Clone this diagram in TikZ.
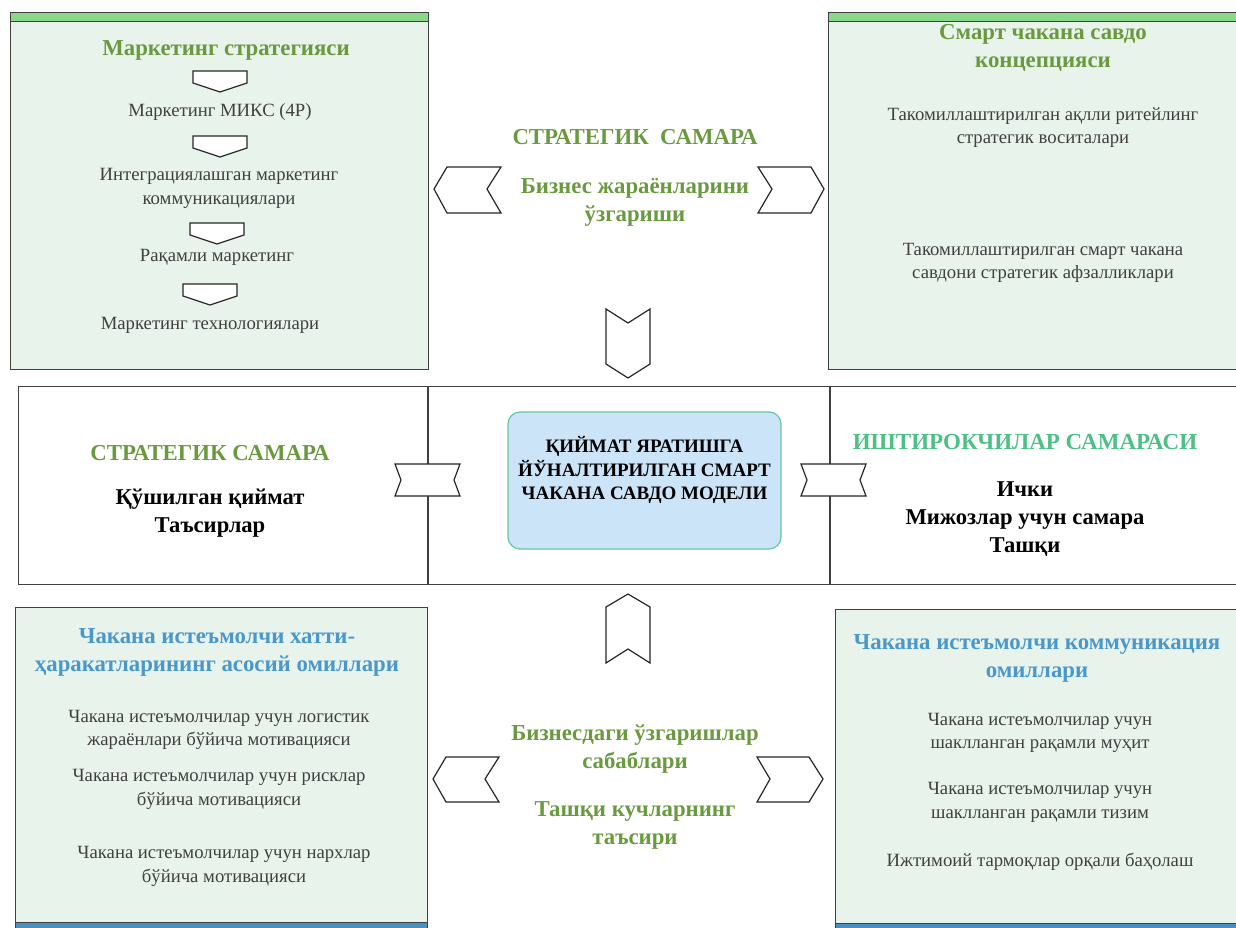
\documentclass[tikz,border=0pt]{standalone}
\usepackage{fontspec}
\setmainfont{Liberation Serif}
\usepackage{xcolor}
\definecolor{panelfill}{HTML}{E8F3EC}
\definecolor{stripgreen}{HTML}{8CD88A}
\definecolor{stripblue}{HTML}{4A8FC2}
\definecolor{titlegreen}{HTML}{6A9A3F}
\definecolor{titleblue}{HTML}{4A98CB}
\definecolor{mintgreen}{HTML}{4DC086}
\definecolor{bodygray}{HTML}{404040}
\definecolor{corefill}{HTML}{CCE4F7}
\definecolor{coreline}{HTML}{66C79A}
\tikzstyle{panel} = [draw=black!75, fill=panelfill, line width=1.2pt, rectangle, inner sep=0pt]
\tikzstyle{strip} = [draw=black!75, line width=1.2pt, rectangle, inner sep=0pt, minimum height=9]
\tikzstyle{band} = [draw=black!75, fill=white, line width=1.2pt, rectangle, inner sep=0pt]
\tikzstyle{corebox} = [draw=coreline, fill=corefill, line width=1.2pt, rectangle, rounded corners=12pt]
\tikzstyle{chev} = [draw=black!85, fill=white, line width=1.2pt]
\tikzstyle{greentitle} = [text=titlegreen, font=\bfseries\fontsize{22.8}{28}\selectfont, align=center]
\tikzstyle{bluetitle} = [text=titleblue, font=\bfseries\fontsize{22.8}{28}\selectfont, align=center, yshift=-1.5pt]
\tikzstyle{minttitle} = [text=mintgreen, font=\bfseries\fontsize{23}{28}\selectfont, align=center]
\tikzstyle{blacktitle} = [text=black, font=\bfseries\fontsize{22.6}{28}\selectfont, align=center, yshift=-1pt]
\tikzstyle{coretext} = [text=black, font=\bfseries\fontsize{19}{23.5}\selectfont, align=center]
\tikzstyle{graytext} = [text=bodygray, font=\fontsize{18.7}{23.5}\selectfont, align=center, yshift=-2pt]

\begin{document}
\begin{tikzpicture}[x=1pt,y=-1pt]
\useasboundingbox (0,0) rectangle (1236,927);
% top panels
\node[panel, anchor=north west, minimum width=418, minimum height=357] (mkt) at (10,12) {};
\node[strip, fill=stripgreen, anchor=north west, minimum width=418] at (mkt.north west) {};
\node[panel, anchor=north west, minimum width=420, minimum height=357] (smart) at (828,12) {};
\node[strip, fill=stripgreen, anchor=north west, minimum width=420] at (smart.north west) {};
% middle band
\node[band, anchor=north west, minimum width=1230, minimum height=198] (band) at (18,386) {};
\draw[black!75, line width=1.2pt] ([xshift=410pt]band.north west) -- ([xshift=410pt]band.south west);
\draw[black!75, line width=1.2pt] ([xshift=812pt]band.north west) -- ([xshift=812pt]band.south west);
\node[corebox, minimum width=273, minimum height=137] (core) at (644.5,480.5) {};
\node[coretext] (coretext) at (644.5,470) {ҚИЙМАТ ЯРАТИШГА\\ЙЎНАЛТИРИЛГАН СМАРТ\\ЧАКАНА САВДО МОДЕЛИ};
% bottom panels
\node[panel, anchor=north west, minimum width=412, minimum height=330] (behav) at (15,607) {};
\node[strip, fill=stripblue, anchor=south west, minimum width=412, minimum height=15] at (behav.south west) {};
\node[panel, anchor=north west, minimum width=410, minimum height=328] (comm) at (835,609) {};
\node[strip, fill=stripblue, anchor=south west, minimum width=410, minimum height=14] at (comm.south west) {};

% marketing strategy
\node[greentitle, yshift=-2pt] (mkttitle) at (226,48) {Маркетинг стратегияси};
\foreach \x/\y in {220/71, 220/136, 217/223, 210/284}
  \draw[chev] (\x-27,\y) -- ++(54,0) -- ++(0,12) -- ++(-27,9) -- ++(-27,-9) -- cycle;
\node[graytext] (mix) at (220,110) {Маркетинг МИКС (4P)};
\node[graytext] (imc) at (219,186.5) {Интеграциялашган маркетинг\\коммуникациялари};
\node[graytext] (digital) at (217,255) {Рақамли маркетинг};
\node[graytext] (tech) at (210,323) {Маркетинг технологиялари};

% smart retail concept
\node[greentitle, yshift=-1.5pt] (smarttitle) at (1043,46.5) {Смарт чакана савдо\\концепцияси};
\node[graytext] (tools) at (1043,125.5) {Такомиллаштирилган ақлли ритейлинг\\стратегик воситалари};
\node[graytext] (adv) at (1043,261) {Такомиллаштирилган смарт чакана\\савдони стратегик афзалликлари};

% top centre
\node[greentitle] (strattop) at (635,137) {СТРАТЕГИК\ \ САМАРА};
\node[greentitle, yshift=-1.5pt] (bizproc) at (635,201) {Бизнес жараёнларини\\ўзгариши};
\draw[chev] (434,189) -- (447,167) -- (501,167) -- (487,189) -- (501,213) -- (447,213) -- cycle;
\draw[chev] (758,167) -- (811,167) -- (824,189) -- (811,213) -- (758,213) -- (772,189) -- cycle;
\draw[chev] (606,309) -- (628,323) -- (650,309) -- (650,364) -- (628,378) -- (606,364) -- cycle;

% middle band texts
\node[greentitle] (stratmid) at (210,453) {СТРАТЕГИК САМАРА};
\node[blacktitle] (added) at (210,512.5) {Қўшилган қиймат\\Таъсирлар};
\node[minttitle] (partic) at (1025,442) {ИШТИРОКЧИЛАР САМАРАСИ};
\node[blacktitle] (inner) at (1025,518) {Ички\\Мижозлар учун самара\\Ташқи};
\draw[chev] (395,464) -- (460,464) -- (454,480) -- (460,496) -- (395,496) -- (401,480) -- cycle;
\draw[chev] (801,464) -- (866,464) -- (860,480) -- (866,496) -- (801,496) -- (807,480) -- cycle;

% bottom centre
\draw[chev] (628,594) -- (650,607) -- (650,663) -- (628,649) -- (606,663) -- (606,607) -- cycle;
\node[greentitle, yshift=-1.5pt] (causes) at (635,748) {Бизнесдаги ўзгаришлар\\сабаблари};
\node[greentitle, yshift=-1.5pt] (forces) at (635,824) {Ташқи кучларнинг\\таъсири};
\draw[chev] (433,779) -- (446,757) -- (499,757) -- (485,779) -- (499,802) -- (446,802) -- cycle;
\draw[chev] (757,757) -- (809,757) -- (823,779) -- (809,802) -- (757,802) -- (770,779) -- cycle;

% consumer behaviour
\node[bluetitle] (behavtitle) at (217,651) {Чакана истеъмолчи хатти-\\ҳаракатларининг асосий омиллари};
\node[graytext] (logist) at (219,728) {Чакана истеъмолчилар учун логистик\\жараёнлари бўйича мотивацияси};
\node[graytext] (risk) at (219,787.5) {Чакана истеъмолчилар учун рисклар\\бўйича мотивацияси};
\node[graytext] (price) at (224,864.5) {Чакана истеъмолчилар учун нархлар\\бўйича мотивацияси};

% consumer communication
\node[bluetitle] (commtitle) at (1037,657) {Чакана истеъмолчи коммуникация\\омиллари};
\node[graytext] (env) at (1040,731) {Чакана истеъмолчилар учун\\шаклланган рақамли муҳит};
\node[graytext] (sys) at (1040,800.5) {Чакана истеъмолчилар учун\\шаклланган рақамли тизим};
\node[graytext] (social) at (1040,860) {Ижтимоий тармоқлар орқали баҳолаш};
\end{tikzpicture}
\end{document}
